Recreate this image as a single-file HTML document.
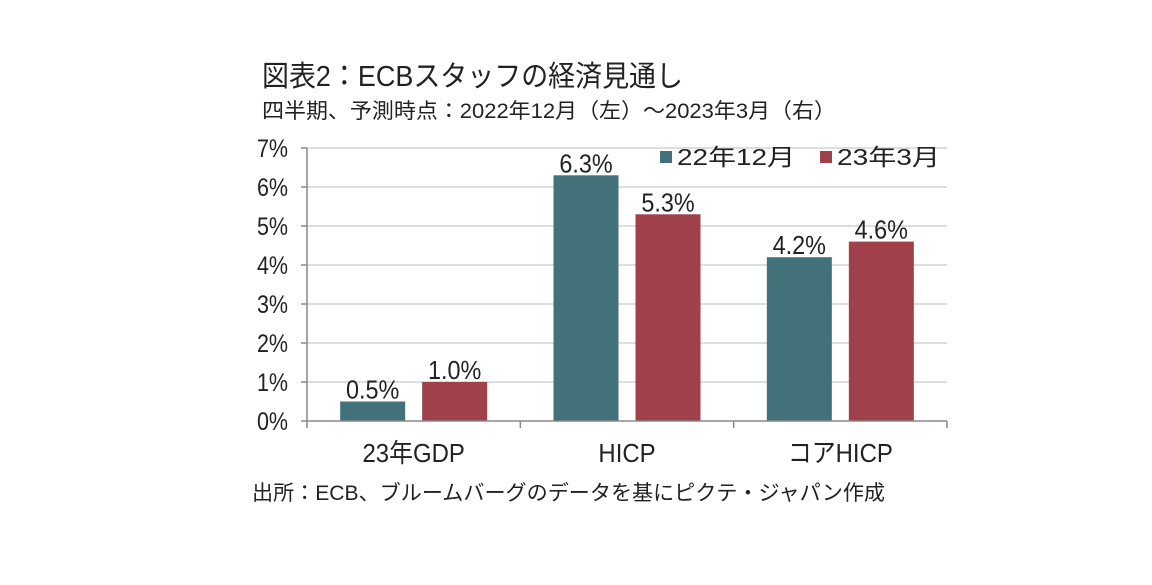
<!DOCTYPE html>
<html><head><meta charset="utf-8"><style>
html,body{margin:0;padding:0;background:#fff;}
svg text{font-family:"Liberation Sans","Noto Sans CJK JP",sans-serif;fill:#222;}
</style></head><body>
<svg width="1152" height="580" viewBox="0 0 1152 580">
<text x="262" y="86" font-size="29" textLength="421" lengthAdjust="spacingAndGlyphs">図表2：ECBスタッフの経済見通し</text>
<text x="262" y="118" font-size="21" textLength="574" lengthAdjust="spacingAndGlyphs">四半期、予測時点：2022年12月（左）～2023年3月（右）</text>
<g id="grid"></g>
<g id="bars"></g>
<g id="axes"></g>
<rect x="660" y="151" width="12" height="12" fill="#43717a"/>
<text x="677" y="165" font-size="23" textLength="118" lengthAdjust="spacingAndGlyphs">22年12月</text>
<rect x="820" y="151" width="12" height="12" fill="#a0404a"/>
<text x="837" y="165" font-size="23" textLength="103" lengthAdjust="spacingAndGlyphs">23年3月</text>
<text x="252" y="500" font-size="21" textLength="633" lengthAdjust="spacingAndGlyphs">出所：ECB、ブルームバーグのデータを基にピクテ・ジャパン作成</text>
</svg>
<script>
const categories=["23年GDP","HICP","コアHICP"];
const dec22=[0.5,6.3,4.2];
const mar23=[1.0,5.3,4.6];
const yTicks=[0,1,2,3,4,5,6,7];
const NS="http://www.w3.org/2000/svg";
const x0=307,x1=947,y0=421,pxPer=39;
const groupW=(x1-x0)/categories.length;
function y(v){return y0-v*pxPer;}
function gx(i){return x0+groupW*i+groupW/2;}
function mk(tag,attrs,parent){const e=document.createElementNS(NS,tag);for(const k in attrs)e.setAttribute(k,attrs[k]);parent.appendChild(e);return e;}
const grid=document.getElementById('grid'),bars=document.getElementById('bars'),axes=document.getElementById('axes');
yTicks.forEach(t=>{
 if(t>0){const l=mk('line',{x1:x0,x2:x1,y1:y(t),y2:y(t),stroke:'#d4d4d4','stroke-width':1.5},grid);
 
 }
 const tk=mk('line',{x1:x0-6,x2:x0,y1:y(t),y2:y(t),stroke:'#888','stroke-width':1.5},axes);
 
 
 const tx=mk('text',{x:288,y:y(t)+9,'font-size':25,'text-anchor':'end',transform:`translate(288 0) scale(0.86 1) translate(-288 0)`},axes);
 tx.textContent=t+'%';
 
 
});
const bw=65,gap=17;
categories.forEach((c,i)=>{
 const cx=gx(i);
 [[dec22[i],'#43717a',cx-gap/2-bw,'dec22'],[mar23[i],'#a0404a',cx+gap/2,'mar23']].forEach(([v,col,bx,s])=>{
  const r=mk('rect',{x:bx,y:y(v),width:bw,height:y0-y(v),fill:col},bars);
  
  
  const lx=bx+bw/2;
  const t=mk('text',{x:lx,y:y(v)-3,'font-size':26,'text-anchor':'middle',transform:`translate(${lx} 0) scale(0.9 1) translate(${-lx} 0)`},bars);
  t.textContent=v.toFixed(1)+'%';
  
  
 });
 const cl=mk('text',{x:cx,y:462,'font-size':26,'text-anchor':'middle',transform:`translate(${cx} 0) scale(0.92 1) translate(${-cx} 0)`},axes);
 cl.textContent=c;
 
 
});
for(let i=0;i<=categories.length;i++){
 const xx=x0+groupW*i;
 const t=mk('line',{x1:xx,x2:xx,y1:y0,y2:y0+7,stroke:'#888','stroke-width':1.5},axes);
 
 
}
const ya=mk('line',{x1:x0,x2:x0,y1:y(7),y2:y0,stroke:'#888','stroke-width':1.5},axes);


const xa=mk('line',{x1:x0,x2:x1,y1:y0,y2:y0,stroke:'#888','stroke-width':1.5},axes);


</script>
</body></html>
